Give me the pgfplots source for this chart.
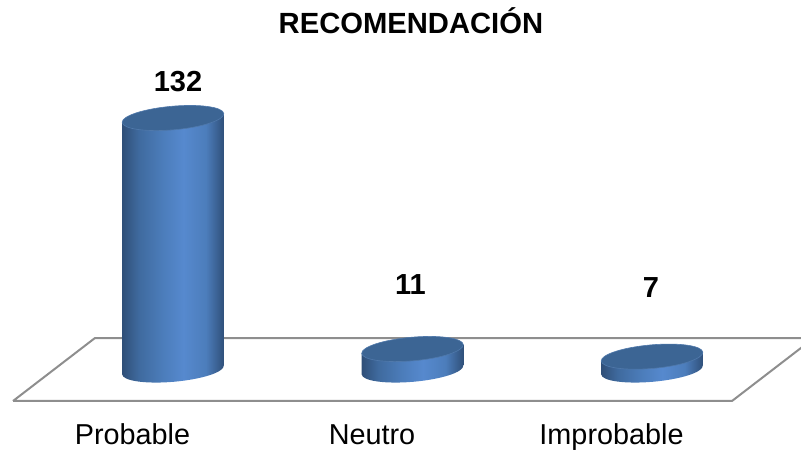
\documentclass[border=0pt]{standalone}
\usepackage{fontspec}
\setmainfont{Liberation Sans}
\usepackage{pgfplots}
\pgfplotsset{compat=1.18}
\usepackage{pgfplotstable}

\definecolor{floorline}{HTML}{8E8E8E}
\definecolor{capblue}{HTML}{3C6594}
\definecolor{capedge}{HTML}{5079AB}
\definecolor{cyl0}{HTML}{2F4F78}
\definecolor{cyl1}{HTML}{3F6A9E}
\definecolor{cyl2}{HTML}{4C7DBB}
\definecolor{cyl3}{HTML}{5689CE}

% Cylinder side: dark edges, brightest a little right of the middle
\pgfdeclarehorizontalshading{cylside}{100bp}{
  color(0bp)=(cyl0);
  color(25bp)=(cyl0);
  color(33bp)=(cyl1);
  color(45bp)=(cyl2);
  color(55bp)=(cyl3);
  color(66bp)=(cyl2);
  color(75bp)=(cyl0);
  color(100bp)=(cyl0)}

% Tilted cylinder: the mark sits on the top face, the body reaches down by value x unit
\newlength{\cylunit}
\setlength{\cylunit}{1.909pt}
\pgfdeclareplotmark{cylinder}{%
  \pgfmathsetlengthmacro{\cylh}{\cylval*\cylunit}%
  \begin{pgfscope}
    \pgfpathmoveto{\pgfpoint{-50.8pt}{-4.45pt}}
    \pgfpathlineto{\pgfpoint{-50.8pt}{-4.45pt-\cylh}}
    \pgfpatharcaxes{180}{360}{\pgfpoint{50.8pt}{4.45pt}}{\pgfpoint{-1.03pt}{11.75pt}}
    \pgfpathlineto{\pgfpoint{50.8pt}{4.45pt}}
    \pgfpathclose
    \pgfshadepath{cylside}{0}
  \end{pgfscope}
  \begin{pgfscope}
    \pgfsetfillcolor{capblue}
    \pgfsetstrokecolor{capedge}
    \pgfsetlinewidth{0.6pt}
    \pgfpathellipse{\pgfpointorigin}{\pgfpoint{50.8pt}{4.45pt}}{\pgfpoint{-1.03pt}{11.75pt}}
    \pgfusepath{fill,stroke}
  \end{pgfscope}
}

\pgfplotstableread{
x value lx  ly
0 132   5   36
1 11    -2  64
2 7     -1  69
}\recomendacion

\pgfplotstableread{
x       y
-0.668  -16.24
-0.3257 16.76
2.676   16.76
2.334   -16.24
-0.668  -16.24
}\piso

\begin{document}
\begin{tikzpicture}[x=1pt,y=1pt]
\useasboundingbox (0,0) rectangle (801,453);
\begin{axis}[
  at={(0,0)}, anchor=south west,
  scale only axis, width=801pt, height=453pt,
  xmin=-0.7223, xmax=2.6221,
  ymin=-43.48, ymax=193.82,
  axis line style={draw=none},
  tick style={draw=none},
  ytick=\empty,
  xtick={-0.169,0.831,1.831},
  xticklabels={Probable,Neutro,Improbable},
  xticklabel style={font=\fontsize{28.8}{30}\selectfont, anchor=base, yshift=9pt},
  title={RECOMENDACIÓN},
  title style={at={(axis description cs:0.513,0.941)}, anchor=center,
    font=\fontsize{29.2}{31}\selectfont\bfseries},
]
\addplot[floorline, line width=2pt, line join=miter] table {\piso};
\addplot[
  scatter, only marks, mark=cylinder,
  scatter/use mapped color={draw=none,fill=none},
  point meta=y,
  visualization depends on={rawy \as \cylval},
  visualization depends on={\thisrow{lx} \as \labx},
  visualization depends on={\thisrow{ly} \as \laby},
  nodes near coords={\pgfmathprintnumber[assume math mode=true,precision=0]{\pgfplotspointmeta}},
  nodes near coords style={anchor=center, xshift=\labx pt, yshift=\laby pt,
    font=\fontsize{29}{31}\selectfont\bfseries, text=black},
] table [x=x, y=value] {\recomendacion};
\end{axis}
\end{tikzpicture}
\end{document}
